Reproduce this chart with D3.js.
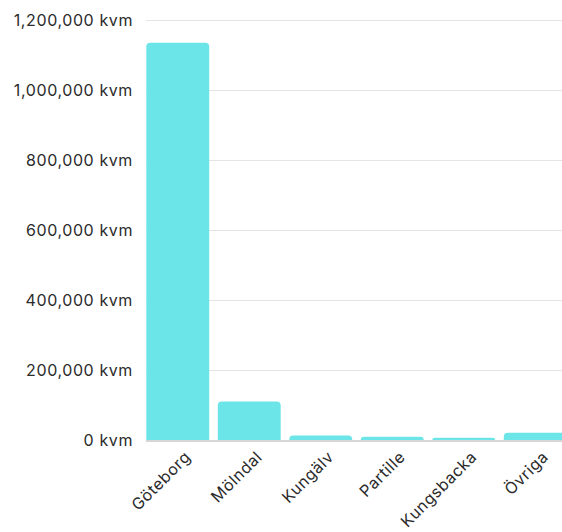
<!DOCTYPE html>
<html lang="sv">
<meta charset="UTF-8">
<style>
body { margin: 0; background: #fff; }
svg text { font-family: "Inter", sans-serif; fill: #2b2b2b; font-size: 16px; letter-spacing: 0.6px; }
.grid line { stroke: #e4e4e4; stroke-width: 1; }
</style>
<body>
<svg width="562" height="532"></svg>
<script src="https://d3js.org/d3.v7.min.js"></script>
<script>
const categories = ['Göteborg', 'Mölndal', 'Kungälv', 'Partille', 'Kungsbacka', 'Övriga'];
const values = [1135000, 110000, 13000, 9500, 6500, 21000];
const yTicks = [0, 200000, 400000, 600000, 800000, 1000000, 1200000];

const svg = d3.select('svg');
const plotLeft = 146, plotTop = 20, plotBottom = 440;

const x = d3.scaleBand()
  .domain(categories)
  .range([plotLeft - 4, plotLeft - 4 + 6 * 71.5])
  .paddingInner(0.12)
  .paddingOuter(0.06);

const y = d3.scaleLinear()
  .domain([0, 1200000])
  .range([plotBottom, plotTop]);

const fmt = d3.format(',');

// gridlines
const grid = svg.append('g').attr('class', 'grid');
grid.selectAll('line').data(yTicks.filter(d => d > 0))
  .enter().append('line')
    .attr('x1', plotLeft).attr('x2', 562)
    .attr('y1', d => y(d) + 0.5).attr('y2', d => y(d) + 0.5);

// y labels
svg.append('g').selectAll('text').data(yTicks)
  .enter().append('text')
    .attr('x', 133)
    .attr('y', d => y(d))
    .attr('dy', '0.35em')
    .attr('text-anchor', 'end')
    .text(d => fmt(d) + ' kvm');

// bars with rounded top corners
const r = 4;
svg.append('g').selectAll('path').data(categories)
  .enter().append('path')
    .attr('fill', '#6ce5e8')
    .attr('d', (c, i) => {
      const x0 = x(c), w = x.bandwidth(), y0 = y(values[i]), y1 = y(0);
      const rr = Math.min(r, (y1 - y0));
      return `M${x0},${y1}V${y0 + rr}Q${x0},${y0} ${x0 + rr},${y0}H${x0 + w - rr}Q${x0 + w},${y0} ${x0 + w},${y0 + rr}V${y1}Z`;
    });

// baseline
svg.append('line')
  .attr('x1', plotLeft).attr('x2', 562)
  .attr('y1', plotBottom + 1).attr('y2', plotBottom + 1)
  .attr('stroke', '#c8c8c8').attr('stroke-width', 1.5);

// x labels
svg.append('g').selectAll('text').data(categories)
  .enter().append('text')
    .attr('transform', c => `translate(${x(c) + x.bandwidth() / 2 + 10},${plotBottom + 14}) rotate(-45)`)
    .attr('text-anchor', 'end')
    .attr('dy', '0.35em')
    .text(c => c);
</script>
</body>
</html>
